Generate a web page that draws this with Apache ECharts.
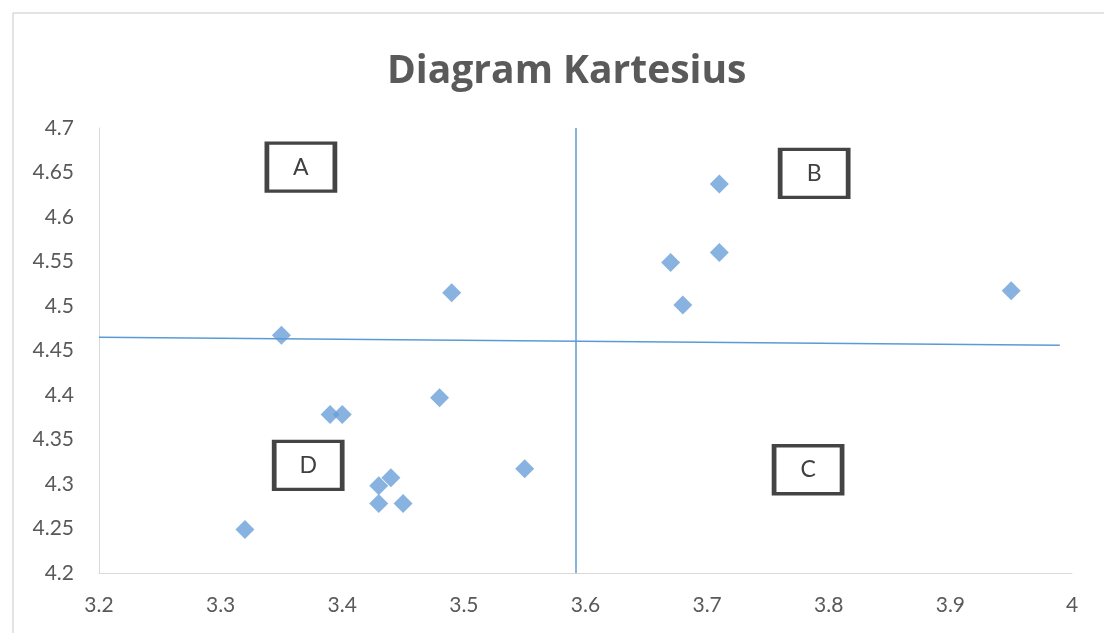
<!DOCTYPE html>
<html lang="id">
<head>
    <meta charset="UTF-8">
    <title>Diagram Kartesius</title>
    <script src="https://cdn.jsdelivr.net/npm/echarts@6/dist/echarts.min.js"></script>
    <style>
        body { margin: 0; background: #fff; }
    </style>
</head>
<body>
<div id="main" style="width: 1104px;height:633px;"></div>
<script type="text/javascript">
    // nilai X dan Y tiap titik
    var xVals = [3.35, 3.49, 3.39, 3.40, 3.48, 3.55, 3.43, 3.44, 3.43, 3.45, 3.32, 3.67, 3.71, 3.71, 3.68, 3.95];
    var yVals = [4.467, 4.515, 4.378, 4.378, 4.397, 4.317, 4.298, 4.307, 4.278, 4.278, 4.249, 4.549, 4.637, 4.560, 4.501, 4.517];

    // garis pembagi kuadran
    var xCut = 3.592;
    var yCut = 4.462;

    // kotak label kuadran
    var quadNames = ['A', 'B', 'C', 'D'];
    var quadX = [3.366, 3.788, 3.783, 3.372];
    var quadY = [4.656, 4.649, 4.316, 4.321];

    var points = [];
    for (var i = 0; i < xVals.length; i++) {
        points.push([xVals[i], yVals[i]]);
    }
    var boxes = [];
    for (var j = 0; j < quadNames.length; j++) {
        boxes.push({ name: quadNames[j], coord: [quadX[j], quadY[j]], value: quadNames[j] });
    }

    var myChart = echarts.init(document.getElementById('main'));
    myChart.setOption({
        animation: false,
        textStyle: { fontFamily: 'Lato, "Open Sans", sans-serif' },
        title: {
            text: 'Diagram Kartesius',
            left: 382,
            top: 47,
            textStyle: { fontSize: 39, fontWeight: 'bold', color: '#5a5a5a', fontFamily: '"Open Sans", Lato, sans-serif' }
        },
        graphic: [{
            type: 'rect',
            shape: { x: 13, y: 13, width: 1120, height: 660 },
            style: { fill: 'none', stroke: '#c8c8c8', lineWidth: 1 },
            silent: true
        }],
        grid: { left: 99, right: 32, top: 128, bottom: 60 },
        xAxis: {
            type: 'value',
            min: 3.2, max: 4, interval: 0.1,
            axisLine: { show: true, lineStyle: { color: '#d9d9d9' } },
            axisTick: { show: false },
            splitLine: { show: false },
            axisLabel: { color: '#595959', fontSize: 21, margin: 22 }
        },
        yAxis: {
            type: 'value',
            min: 4.2, max: 4.7, interval: 0.05,
            axisLine: { show: true, lineStyle: { color: '#d9d9d9' } },
            axisTick: { show: false },
            splitLine: { show: false },
            axisLabel: { color: '#595959', fontSize: 21, margin: 25 }
        },
        series: [{
            type: 'scatter',
            data: points,
            symbol: 'diamond',
            symbolSize: 19,
            itemStyle: { color: '#6a9fd8' },
            markLine: {
                silent: true,
                symbol: 'none',
                label: { show: false },
                lineStyle: { color: '#5b9bd5', width: 1.5, type: 'solid' },
                data: [
                    [{ coord: [xCut, 4.2] }, { coord: [xCut, 4.7] }],
                    [{ coord: [3.2, yCut + 0.003] }, { coord: [3.99, yCut - 0.006] }]
                ]
            },
            markPoint: {
                silent: true,
                symbol: 'rect',
                symbolSize: [68, 48],
                itemStyle: { color: '#ffffff', borderColor: '#444444', borderWidth: 4 },
                label: { show: true, formatter: '{b}', color: '#404040', fontSize: 23 },
                data: boxes
            }
        }]
    });
</script>
</body>
</html>
